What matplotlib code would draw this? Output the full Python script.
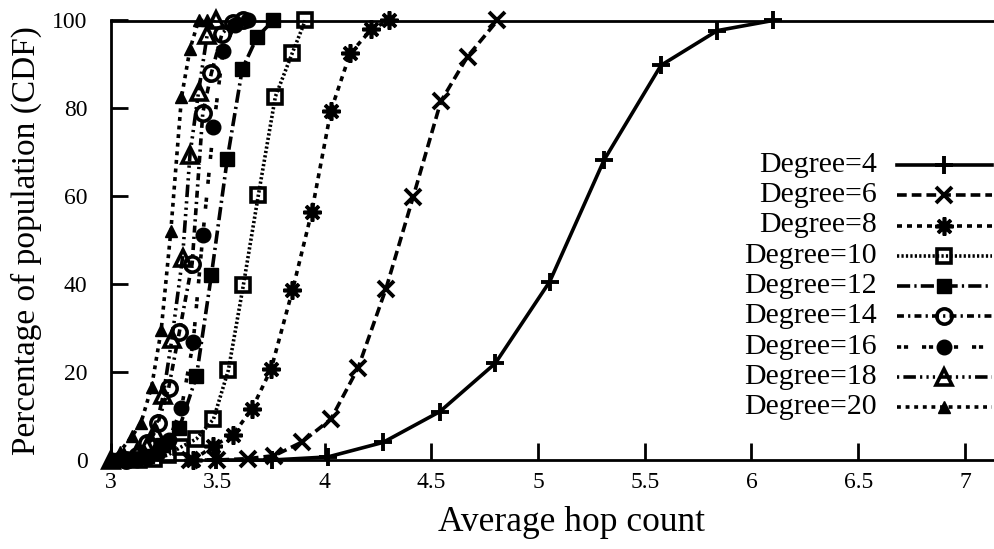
import matplotlib
matplotlib.use("Agg")
import matplotlib.pyplot as plt
from matplotlib.lines import Line2D

plt.rcParams['font.family'] = ['Liberation Serif', 'DejaVu Serif']
plt.rcParams['lines.scale_dashes'] = False

# ---------------- data ----------------
labels = ["Degree=4", "Degree=6", "Degree=8", "Degree=10", "Degree=12",
          "Degree=14", "Degree=16", "Degree=18", "Degree=20"]

d4_x = [3.49, 3.755, 4.016, 4.274, 4.54, 4.80, 5.055, 5.31, 5.576, 5.84, 6.10]
d4_y = [0, 0, 0.7, 4, 11, 22, 40.6, 68.3, 89.8, 97.7, 100]

d6_x = [3.37, 3.495, 3.64, 3.765, 3.895, 4.03, 4.157, 4.288, 4.415, 4.545, 4.67, 4.81]
d6_y = [0, 0, 0.3, 1, 4.1, 9.3, 20.9, 39, 59.8, 81.6, 91.8, 100]

d8_x = [3.385, 3.48, 3.57, 3.66, 3.75, 3.85, 3.94, 4.03, 4.12, 4.22, 4.30]
d8_y = [0, 3.2, 5.7, 11.6, 20.7, 38.6, 56.4, 79.5, 92.5, 98, 100]

d10_x = [3.13, 3.20, 3.265, 3.33, 3.40, 3.48, 3.55, 3.62, 3.69, 3.77, 3.85, 3.91]
d10_y = [0, 0.3, 1.1, 3, 4.8, 9.3, 20.5, 39.8, 60.2, 82.7, 92.7, 100]

d12_x = [3.03, 3.10, 3.17, 3.245, 3.32, 3.40, 3.47, 3.545, 3.615, 3.685, 3.76]
d12_y = [0, 0.3, 1, 3.5, 7.3, 19, 42, 68.6, 89, 96.3, 100]

d14_x = [3.07, 3.12, 3.17, 3.22, 3.27, 3.32, 3.38, 3.43, 3.47, 3.52, 3.57, 3.62]
d14_y = [0, 1, 3.9, 8.4, 16.4, 29.1, 44.7, 79, 88, 97, 99.5, 100]

d16_x = [3.12, 3.17, 3.22, 3.27, 3.33, 3.385, 3.43, 3.48, 3.525, 3.58, 3.64]
d16_y = [0, 0.5, 1.5, 4.5, 11.8, 26.8, 51.1, 75.7, 93, 99, 100]

d18_x = [3.00, 3.06, 3.12, 3.17, 3.205, 3.245, 3.285, 3.335, 3.37, 3.41, 3.45, 3.49]
d18_y = [0, 0.5, 1.5, 3, 6.4, 14.8, 27.5, 46, 69.5, 83.7, 96.6, 100]

d20_x = [3.0, 3.04, 3.10, 3.14, 3.19, 3.235, 3.28, 3.33, 3.37, 3.41, 3.45]
d20_y = [0, 1.8, 5.5, 8.4, 16.6, 29.5, 52, 82.5, 93.5, 100, 100]

series_x = [d4_x, d6_x, d8_x, d10_x, d12_x, d14_x, d16_x, d18_x, d20_x]
series_y = [d4_y, d6_y, d8_y, d10_y, d12_y, d14_y, d16_y, d18_y, d20_y]

x_ticks = [3, 3.5, 4, 4.5, 5, 5.5, 6, 6.5, 7]
x_ticklabels = ["3", "3.5", "4", "4.5", "5", "5.5", "6", "6.5", "7"]
y_ticks = [0, 20, 40, 60, 80, 100]

# ---------------- styles ----------------
LW = 2.6
styles = [
    dict(ls='-', marker='+', ms=13, mfc='black', mew=2.8),
    dict(ls=(0, (7, 3.6)), marker='x', ms=11.5, mfc='black', mew=2.8),
    dict(ls=(0, (3.6, 3.6)), marker=(8, 2, 0), ms=13, mfc='black', mew=2.6),
    dict(ls=(0, (1.6, 1.6)), marker='s', ms=10.5, mfc='none', mew=2.6),
    dict(ls=(0, (9.5, 3, 1.6, 3)), marker='s', ms=10.5, mfc='black', mew=1),
    dict(ls=(0, (5, 3, 1.6, 3)), marker='o', ms=11, mfc='none', mew=2.6),
    dict(ls=(0, (3, 2, 3, 10)), marker='o', ms=10.5, mfc='black', mew=1),
    dict(ls=(0, (1.6, 3, 9, 3, 1.6, 3, 1.6, 3)), marker='^', ms=12, mfc='none', mew=2.6),
    dict(ls=(0, (2.8, 3.4)), marker='^', ms=8.5, mfc='black', mew=1),
]

W, H = 995, 549
fig = plt.figure(figsize=(W / 100, H / 100), dpi=100)
ax_left, ax_right, ax_top, ax_bot = 111, 995, 20.5, 460
ax = fig.add_axes([ax_left / W, 1 - ax_bot / H, (ax_right - ax_left) / W, (ax_bot - ax_top) / H])

for xs, ys, st in zip(series_x, series_y, styles):
    ax.plot(xs, ys, color='black', lw=LW, linestyle=st['ls'], marker=st['marker'],
            ms=st['ms'], mfc=st['mfc'], mec='black', mew=st['mew'], clip_on=False)

ax.set_xlim(3, 3 + (ax_right - ax_left) / 213.5)
ax.set_ylim(0, 100)
ax.set_xticks(x_ticks)
ax.set_xticklabels(x_ticklabels)
ax.set_yticks(y_ticks)
ax.spines['right'].set_visible(False)
for s in ['left', 'bottom', 'top']:
    ax.spines[s].set_linewidth(2.0)
ax.tick_params(axis='both', direction='in', length=12.5, width=2.0, labelsize=17)
ax.tick_params(axis='x', pad=9)
ax.tick_params(axis='y', pad=17)
ax.tick_params(top=False, right=False)
ax.set_xlabel("Average hop count", fontsize=25.5)
ax.xaxis.set_label_coords((572 - ax_left) / (ax_right - ax_left), -0.105)
ax.set_ylabel("Percentage of population (CDF)", fontsize=24, labelpad=7)

# ---------------- legend (gnuplot style: right-aligned text, sample to the right) ----------------
txt_right = 877
row0 = 165
row_step = 30.25
samp_x0, samp_x1 = 897, 992
for i, (lab, st) in enumerate(zip(labels, styles)):
    py = row0 + i * row_step
    fy = 1 - py / H
    fig.text(txt_right / W, fy, lab, ha='right', va='center', fontsize=21.5)
    xm = (samp_x0 + samp_x1) / 2
    fig.add_artist(Line2D([samp_x0 / W, xm / W, samp_x1 / W], [fy, fy, fy],
                          transform=fig.transFigure, color='black', lw=LW,
                          linestyle=st['ls'], marker=st['marker'], markevery=[1],
                          ms=st['ms'], mfc=st['mfc'], mec='black', mew=st['mew']))

fig.savefig("out.png", dpi=100)
